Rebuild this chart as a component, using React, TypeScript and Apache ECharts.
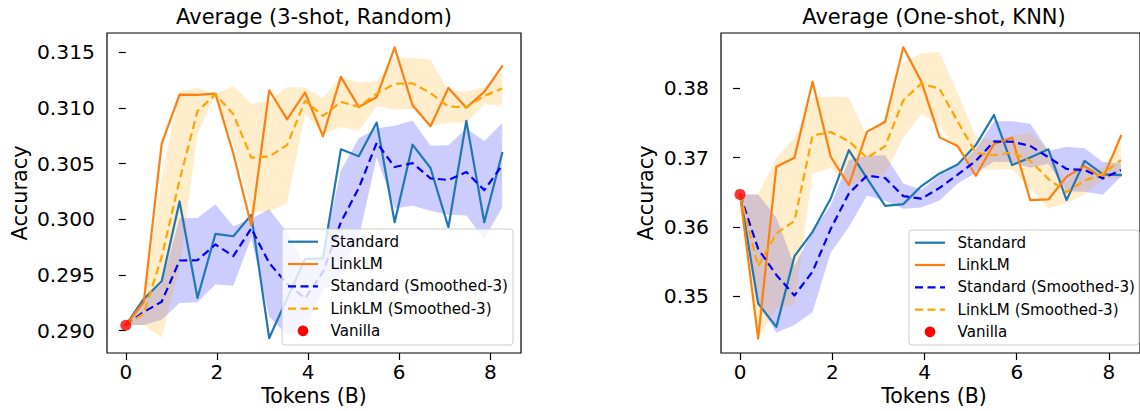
import React, { useEffect, useRef } from "react";
import * as echarts from "echarts";

// Tokens (B) for each checkpoint
const TOKENS = [0, 0.393, 0.787, 1.18, 1.573, 1.967, 2.36, 2.753, 3.147, 3.54, 3.933, 4.327, 4.72, 5.113, 5.507, 5.9, 6.293, 6.687, 7.08, 7.473, 7.867, 8.26];

// ---- Left panel: Average (3-shot, Random)
const L_STD = [0.29051, 0.29285, 0.29444, 0.3016, 0.29294, 0.29869, 0.29848, 0.3004, 0.28934, 0.2929, 0.29645, 0.2965, 0.30628, 0.30565, 0.30868, 0.29974, 0.3067, 0.3046, 0.29929, 0.30883, 0.29974, 0.30595];
const L_LINK = [0.29051, 0.29255, 0.30679, 0.31119, 0.31116, 0.31128, 0.30589, 0.29944, 0.31158, 0.30897, 0.31138, 0.30745, 0.31278, 0.31008, 0.31098, 0.31542, 0.31023, 0.30835, 0.31179, 0.31002, 0.31143, 0.31374];
const L_STD_SM = [0.29051, 0.29168, 0.2926, 0.2963, 0.29633, 0.29774, 0.2967, 0.29919, 0.29607, 0.29421, 0.2929, 0.29528, 0.29974, 0.30281, 0.30687, 0.30469, 0.30504, 0.30368, 0.30353, 0.30424, 0.30262, 0.30484];
const L_STD_LO = [0.29051, 0.29051, 0.29099, 0.29249, 0.29255, 0.29415, 0.29404, 0.29833, 0.29125, 0.2896, 0.28999, 0.2936, 0.29512, 0.29834, 0.30557, 0.30098, 0.30121, 0.30077, 0.30041, 0.30034, 0.29823, 0.30105];
const L_STD_HI = [0.29051, 0.29285, 0.29421, 0.3001, 0.30011, 0.30134, 0.29937, 0.30005, 0.3009, 0.29882, 0.2958, 0.29697, 0.30437, 0.30728, 0.30818, 0.3084, 0.30887, 0.3066, 0.30665, 0.30814, 0.30702, 0.30863];
const L_LINK_SM = [0.29051, 0.29153, 0.29662, 0.30351, 0.30971, 0.31121, 0.30944, 0.30554, 0.30564, 0.30666, 0.31064, 0.30927, 0.31054, 0.3101, 0.31128, 0.31216, 0.31221, 0.31133, 0.31012, 0.31005, 0.31108, 0.31173];
const L_LINK_LO = [0.29051, 0.29051, 0.28938, 0.29556, 0.30765, 0.31116, 0.30693, 0.3007, 0.30068, 0.30145, 0.30946, 0.30765, 0.30828, 0.30793, 0.31016, 0.30983, 0.30992, 0.30834, 0.30872, 0.30865, 0.31032, 0.3102];
const L_LINK_HI = [0.29051, 0.29255, 0.30386, 0.31147, 0.31178, 0.31126, 0.31196, 0.31038, 0.3106, 0.31188, 0.31183, 0.31089, 0.31279, 0.31228, 0.3124, 0.31449, 0.3145, 0.31432, 0.31153, 0.31146, 0.31184, 0.31326];
const L_VANILLA = 0.2905;
const L_YTICKS = [0.29, 0.295, 0.3, 0.305, 0.31, 0.315];

// ---- Right panel: Average (One-shot, KNN)
const R_STD = [0.36469, 0.34894, 0.34557, 0.35578, 0.3593, 0.36411, 0.3711, 0.36701, 0.36305, 0.36329, 0.3659, 0.36773, 0.36903, 0.37182, 0.37616, 0.36893, 0.37004, 0.3712, 0.36387, 0.36955, 0.36759, 0.36749];
const R_LINK = [0.36469, 0.34389, 0.36869, 0.36999, 0.38097, 0.37013, 0.36604, 0.37374, 0.37519, 0.38594, 0.38097, 0.37293, 0.37168, 0.36739, 0.37197, 0.37288, 0.36387, 0.36397, 0.36724, 0.36879, 0.36701, 0.37312];
const R_STD_SM = [0.36469, 0.35682, 0.35307, 0.3501, 0.35355, 0.35973, 0.36484, 0.36741, 0.36705, 0.36445, 0.36408, 0.36564, 0.36755, 0.36953, 0.37234, 0.3723, 0.37171, 0.37006, 0.36837, 0.36821, 0.367, 0.36821];
const R_STD_LO = [0.36469, 0.34894, 0.34473, 0.34585, 0.34773, 0.35632, 0.35999, 0.36454, 0.36377, 0.36264, 0.36279, 0.36382, 0.36627, 0.36782, 0.3694, 0.36933, 0.36853, 0.36913, 0.36515, 0.36507, 0.36465, 0.36726];
const R_STD_HI = [0.36469, 0.36469, 0.3614, 0.35435, 0.35937, 0.36314, 0.36968, 0.37027, 0.37034, 0.36626, 0.36537, 0.36746, 0.36884, 0.37123, 0.37527, 0.37527, 0.37489, 0.37098, 0.37159, 0.37135, 0.36936, 0.36916];
const R_LINK_SM = [0.36469, 0.35429, 0.35909, 0.36086, 0.37322, 0.3737, 0.37238, 0.36997, 0.37166, 0.37829, 0.3807, 0.37995, 0.37519, 0.37067, 0.37035, 0.37075, 0.36957, 0.36691, 0.36503, 0.36667, 0.36768, 0.36964];
const R_LINK_LO = [0.36469, 0.34389, 0.34822, 0.34885, 0.36771, 0.36855, 0.36608, 0.36682, 0.36764, 0.37285, 0.37631, 0.37459, 0.37108, 0.3683, 0.36825, 0.36835, 0.36552, 0.36268, 0.36346, 0.36466, 0.36689, 0.36707];
const R_LINK_HI = [0.36469, 0.36469, 0.36996, 0.37287, 0.37873, 0.37884, 0.37868, 0.37312, 0.37567, 0.38373, 0.38509, 0.38531, 0.37931, 0.37304, 0.37244, 0.37315, 0.37362, 0.37113, 0.36659, 0.36868, 0.36847, 0.37221];
const R_VANILLA = 0.3647;
const R_YTICKS = [0.35, 0.36, 0.37, 0.38];

const X_TICKS = [0, 2, 4, 6, 8];
const LEGEND_NAMES = ["Standard", "LinkLM", "Standard (Smoothed-3)", "LinkLM (Smoothed-3)", "Vanilla"];
const TITLES = ["Average (3-shot, Random)", "Average (One-shot, KNN)"];

const FONT = "DejaVu Sans";
const C_STD = "#1f77b4";
const C_LINK = "#ff7f0e";
const C_STD_SM = "#0000ff";
const C_LINK_SM = "#ffa500";
const DASH = [8, 4.5];

function bandSeries(g: number, lo: number[], hi: number[], fill: string) {
  return {
    type: "custom",
    xAxisIndex: g,
    yAxisIndex: g,
    z: 1,
    silent: true,
    data: TOKENS.map((x, i) => [x, lo[i], hi[i]]),
    encode: { x: 0, y: [1, 2] },
    renderItem: (params: any, api: any) => {
      if (params.dataIndex !== 0) return { type: "group", children: [] };
      const pts: number[][] = [];
      for (let i = 0; i < TOKENS.length; i++) pts.push(api.coord([TOKENS[i], hi[i]]));
      for (let i = TOKENS.length - 1; i >= 0; i--) pts.push(api.coord([TOKENS[i], lo[i]]));
      return { type: "polygon", shape: { points: pts }, style: { fill, stroke: null } };
    },
  };
}

function lineSeries(g: number, ys: number[], color: string, dashed: boolean) {
  return {
    type: "line",
    xAxisIndex: g,
    yAxisIndex: g,
    z: 3,
    silent: true,
    symbol: "none",
    showSymbol: false,
    data: TOKENS.map((x, i) => [x, ys[i]]),
    lineStyle: { color, width: 2.2, type: dashed ? DASH : "solid", join: "round", cap: dashed ? "butt" : "square" },
    itemStyle: { color },
  };
}

function vanillaSeries(g: number, v: number) {
  return {
    type: "scatter",
    xAxisIndex: g,
    yAxisIndex: g,
    z: 6,
    silent: true,
    symbol: "circle",
    symbolSize: 11,
    data: [[0, v]],
    itemStyle: { color: "#ff0000" },
  };
}

function xAxisCfg(g: number) {
  return {
    type: "value",
    gridIndex: g,
    min: -0.413,
    max: 8.673,
    splitLine: { show: false },
    axisLine: { show: false },
    axisTick: { show: true, length: 7, lineStyle: { color: "#000", width: 1.2 }, customValues: X_TICKS },
    axisLabel: {
      customValues: X_TICKS,
      fontFamily: FONT,
      fontSize: 20,
      color: "#000",
      margin: 8.5,
      formatter: (v: number) => String(v),
    },
  };
}

function yAxisCfg(g: number, min: number, max: number, ticks: number[], digits: number) {
  return {
    type: "value",
    gridIndex: g,
    min,
    max,
    splitLine: { show: false },
    axisLine: { show: false },
    axisTick: { show: true, length: 7, lineStyle: { color: "#000", width: 1.2 }, customValues: ticks },
    axisLabel: {
      customValues: ticks,
      fontFamily: FONT,
      fontSize: 20.3,
      color: "#000",
      margin: 12,
      formatter: (v: number) => v.toFixed(digits),
    },
  };
}

function textEl(x: number, y: number, text: string, size: number, align: string, rotation = 0) {
  return {
    type: "text",
    x,
    y,
    rotation,
    z: 120,
    silent: true,
    style: {
      text,
      fontFamily: FONT,
      fontSize: size,
      fill: "#000",
      align,
      verticalAlign: "middle",
      textAlign: align,
      textVerticalAlign: "middle",
    },
  };
}

function legendEls(bx: number, by: number, w: number, h: number) {
  const els: any[] = [];
  els.push({
    type: "rect",
    z: 110,
    silent: true,
    shape: { x: bx, y: by, width: w, height: h, r: 3 },
    style: { fill: "rgba(255,255,255,0.8)", stroke: "#cccccc", lineWidth: 1 },
  });
  const styles = [
    { c: C_STD, d: false },
    { c: C_LINK, d: false },
    { c: C_STD_SM, d: true },
    { c: C_LINK_SM, d: true },
  ];
  for (let k = 0; k < LEGEND_NAMES.length; k++) {
    const ry = by + 12.7 + 22.3 * k;
    if (k < 4) {
      els.push({
        type: "line",
        z: 115,
        silent: true,
        shape: { x1: bx + 6, y1: ry, x2: bx + 36, y2: ry },
        style: { stroke: styles[k].c, lineWidth: 2.2, lineDash: styles[k].d ? DASH : null },
      });
    } else {
      els.push({
        type: "circle",
        z: 115,
        silent: true,
        shape: { cx: bx + 21, cy: ry, r: 5.3 },
        style: { fill: "#ff0000" },
      });
    }
    els.push(textEl(bx + 48.5, ry, LEGEND_NAMES[k], 15.1, "left"));
  }
  return els;
}

export default function App() {
  const ref = useRef<HTMLDivElement>(null);
  useEffect(() => {
    document.body.style.margin = "0";
    const chart = echarts.init(ref.current!, null, { renderer: "svg", width: 1140, height: 411 });
    const option: any = {
      animation: false,
      backgroundColor: "#ffffff",
      grid: [
        { left: 107, top: 33, width: 414, height: 320, show: true, borderColor: "#000", borderWidth: 1.2, backgroundColor: "transparent" },
        { left: 721, top: 33, width: 427, height: 320, show: true, borderColor: "#000", borderWidth: 1.2, backgroundColor: "transparent" },
      ],
      xAxis: [xAxisCfg(0), xAxisCfg(1)],
      yAxis: [yAxisCfg(0, 0.288, 0.31672, L_YTICKS, 3), yAxisCfg(1, 0.3418, 0.388, R_YTICKS, 2)],
      series: [
        bandSeries(0, L_STD_LO, L_STD_HI, "rgba(0,0,255,0.2)"),
        bandSeries(0, L_LINK_LO, L_LINK_HI, "rgba(255,165,0,0.2)"),
        lineSeries(0, L_STD, C_STD, false),
        lineSeries(0, L_LINK, C_LINK, false),
        lineSeries(0, L_STD_SM, C_STD_SM, true),
        lineSeries(0, L_LINK_SM, C_LINK_SM, true),
        vanillaSeries(0, L_VANILLA),
        bandSeries(1, R_STD_LO, R_STD_HI, "rgba(0,0,255,0.2)"),
        bandSeries(1, R_LINK_LO, R_LINK_HI, "rgba(255,165,0,0.2)"),
        lineSeries(1, R_STD, C_STD, false),
        lineSeries(1, R_LINK, C_LINK, false),
        lineSeries(1, R_STD_SM, C_STD_SM, true),
        lineSeries(1, R_LINK_SM, C_LINK_SM, true),
        vanillaSeries(1, R_VANILLA),
      ],
      graphic: [
        textEl(314, 17, TITLES[0], 21, "center"),
        textEl(934, 17, TITLES[1], 21, "center"),
        textEl(314, 395.5, "Tokens (B)", 20.5, "center"),
        textEl(934, 395.5, "Tokens (B)", 20.5, "center"),
        textEl(19.5, 193, "Accuracy", 20.8, "center", Math.PI / 2),
        textEl(646, 193, "Accuracy", 20.8, "center", Math.PI / 2),
        ...legendEls(282, 229, 231, 116),
        ...legendEls(909, 230, 230, 115),
      ],
    };
    chart.setOption(option);
    return () => chart.dispose();
  }, []);
  return <div ref={ref} style={{ width: 1140, height: 411 }} />;
}
